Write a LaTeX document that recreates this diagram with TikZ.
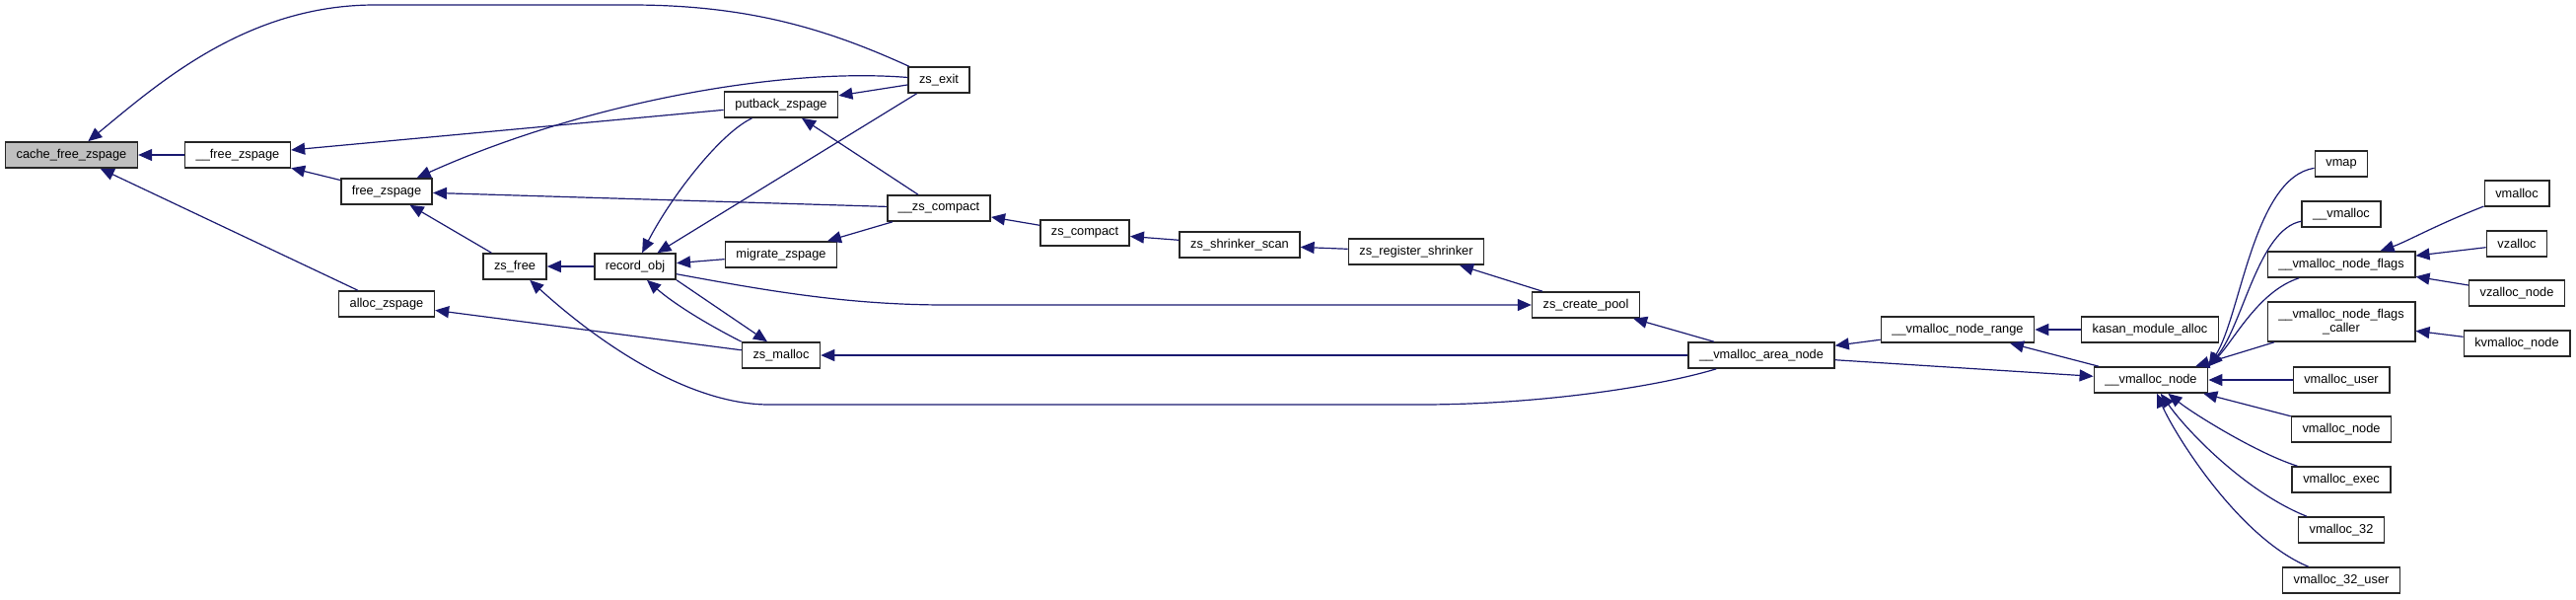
\documentclass[tikz,border=0pt]{standalone}
\usepackage{fontspec}
\setmainfont{Liberation Sans}
\usetikzlibrary{arrows.meta,calc}
\definecolor{callblue}{HTML}{191970}
\definecolor{rootgray}{HTML}{BFBFBF}

\begin{document}
\begin{tikzpicture}[
  x=0.5pt, y=-0.5pt,
  fn/.style={draw=black!85, line width=0.8pt, fill=white, minimum height=13pt, inner xsep=5.5pt, inner ysep=1pt, align=center, font=\fontsize{6.4pt}{7pt}\selectfont},
  root/.style={fn, fill=rootgray},
  call/.style={draw=callblue, line width=0.6pt, -{Triangle[length=7pt,width=6pt]}},
]
\useasboundingbox (0,0) rectangle (2612,607);

\node[root] (cache) at (72.5,157) {cache\_free\_zspage};
\node[fn] (freez) at (241,157) {\_\_free\_zspage};
\node[fn] (free) at (392,194) {free\_zspage};
\node[fn] (alloc) at (392,308) {alloc\_zspage};
\node[fn] (zsfree) at (522,270) {zs\_free};
\node[fn] (record) at (644,270) {record\_obj};
\node[fn] (putback) at (792,106) {putback\_zspage};
\node[fn] (migrate) at (792,258) {migrate\_zspage};
\node[fn] (zsmalloc) at (792,360) {zs\_malloc};
\node[fn] (zsexit) at (952,81) {zs\_exit};
\node[fn] (izscompact) at (952,211) {\_\_zs\_compact};
\node[fn] (zscompact) at (1100,236) {zs\_compact};
\node[fn] (shrinkscan) at (1257,248) {zs\_shrinker\_scan};
\node[fn] (regshrink) at (1436,255) {zs\_register\_shrinker};
\node[fn] (createpool) at (1608,309) {zs\_create\_pool};
\node[fn] (areanode) at (1786,360) {\_\_vmalloc\_area\_node};
\node[fn] (noderange) at (1985,334) {\_\_vmalloc\_node\_range};
\node[fn] (kasan) at (2180,334) {kasan\_module\_alloc};
\node[fn] (vnode) at (2181,385) {\_\_vmalloc\_node};

\node[fn] (vmap) at (2374,166) {vmap};
\node[fn] (uvmalloc) at (2374,217) {\_\_vmalloc};
\node[fn] (nflags) at (2374,268) {\_\_vmalloc\_node\_flags};
\node[fn, minimum height=20pt] (nfcaller) at (2374,326) {\_\_vmalloc\_node\_flags\\\_caller};
\node[fn] (vuser) at (2374,385) {vmalloc\_user};
\node[fn] (vnodep) at (2374,435) {vmalloc\_node};
\node[fn] (vexec) at (2374,486) {vmalloc\_exec};
\node[fn] (v32) at (2374,537) {vmalloc\_32};
\node[fn] (v32user) at (2374,588) {vmalloc\_32\_user};

\node[fn] (vmalloc) at (2552,196) {vmalloc};
\node[fn] (vzalloc) at (2552,247) {vzalloc};
\node[fn] (vzallocnode) at (2552,297) {vzalloc\_node};
\node[fn] (kvmalloc) at (2552,348) {kvmalloc\_node};

\draw[call] (freez) -- (cache);
\draw[call] (zsexit) .. controls (840,30) and (760,5) .. (640,5) -- (380,5) .. controls (250,5) and (160,85) .. (cache);
\draw[call] (alloc) -- (cache);
\draw[call] (free) -- (freez);
\draw[call] (putback) -- (freez);
\draw[call] (zsexit) .. controls (790,68) and (590,105) .. (free);
\draw[call] (izscompact) -- (free);
\draw[call] (zsfree) -- (free);
\draw[call] (zsmalloc) -- (alloc);
\draw[call] (record) -- (zsfree);
\draw[call] (areanode) .. controls (1680,392) and (1560,410) .. (1440,410) -- (780,410) .. controls (700,410) and (610,350) .. (zsfree);
\draw[call] (putback) .. controls (730,135) and (680,200) .. (record);
\draw[call] (zsexit) -- (record);
\draw[call] (migrate) -- (record);
\draw[call] (zsmalloc.north west) .. controls (710,325) and (680,305) .. ($(record.south)+(12,0)$);
\draw[call] (record.south east) -- ($(zsmalloc.north)+(-14,0)$);
\draw[call] (record) .. controls (780,295) and (860,309) .. (960,309) -- (createpool);
\draw[call] (zsexit) -- (putback);
\draw[call] (izscompact) -- (putback);
\draw[call] (izscompact) -- (migrate);
\draw[call] (areanode) -- (zsmalloc);
\draw[call] (zscompact) -- (izscompact);
\draw[call] (shrinkscan) -- (zscompact);
\draw[call] (regshrink) -- (shrinkscan);
\draw[call] (createpool) -- (regshrink);
\draw[call] (areanode) -- (createpool);
\draw[call] (noderange) -- (areanode);
\draw[call] (areanode) -- (vnode);
\draw[call] (kasan) -- (noderange);
\draw[call] (vnode) -- (noderange);

\draw[call] (vmap) .. controls (2285,180) and (2272,320) .. (vnode.north east);
\draw[call] (uvmalloc) .. controls (2290,232) and (2274,330) .. (vnode.north east);
\draw[call] (nflags) .. controls (2290,295) and (2265,345) .. (vnode.north east);
\draw[call] (nfcaller) -- (vnode);
\draw[call] (vuser) -- (vnode);
\draw[call] (vnodep) -- (vnode);
\draw[call] (vexec) .. controls (2290,460) and (2225,420) .. (vnode);
\draw[call] (v32) .. controls (2280,500) and (2220,440) .. (vnode);
\draw[call] (v32user) .. controls (2270,545) and (2205,440) .. (vnode);

\draw[call] (vmalloc) .. controls (2470,228) and (2440,245) .. (nflags);
\draw[call] (vzalloc) -- (nflags);
\draw[call] (vzallocnode) -- (nflags);
\draw[call] (kvmalloc) -- (nfcaller);
\end{tikzpicture}
\end{document}
